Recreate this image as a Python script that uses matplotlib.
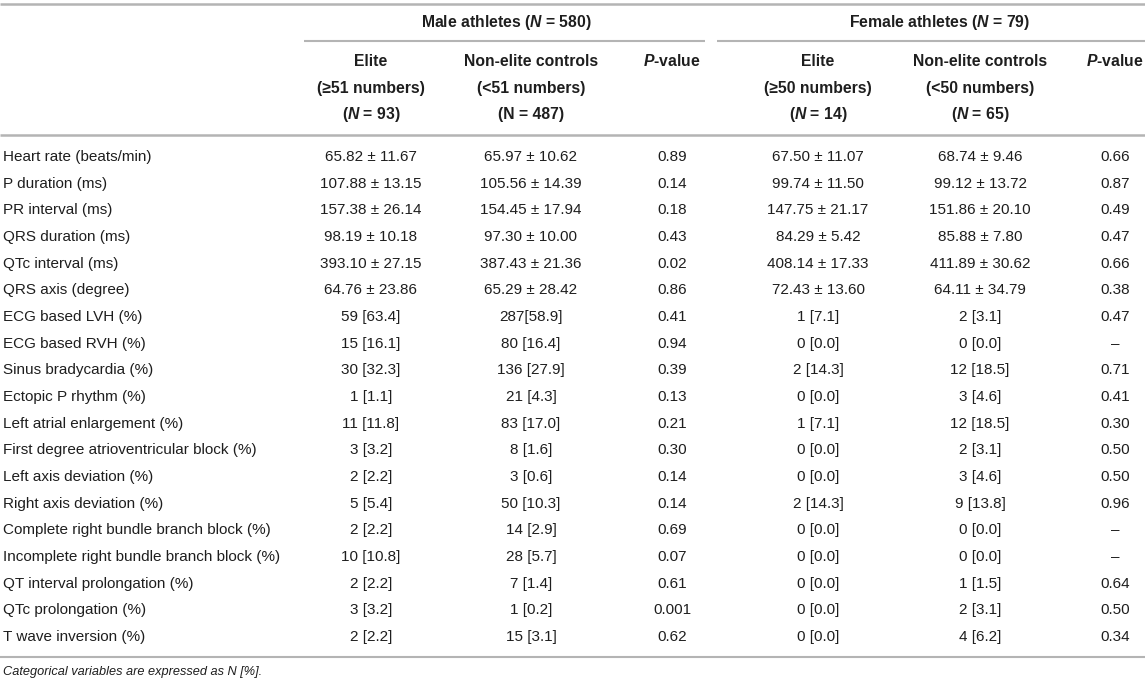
import matplotlib
matplotlib.use("Agg")
import matplotlib.pyplot as plt

FONT = "Liberation Sans"
plt.rcParams['font.family'] = [FONT, 'DejaVu Sans']
plt.rcParams['mathtext.fontset'] = 'custom'
plt.rcParams['mathtext.rm'] = FONT
plt.rcParams['mathtext.it'] = FONT + ':italic'
plt.rcParams['mathtext.bf'] = FONT + ':bold'
plt.rcParams['mathtext.bfit'] = FONT + ':italic:bold'

group_titles = [r"Male athletes ($\mathbfit{N}$ = 580)", r"Female athletes ($\mathbfit{N}$ = 79)"]
col_headers = [
    ["Elite", "(≥51 numbers)", r"($\mathbfit{N}$ = 93)"],
    ["Non-elite controls", "(<51 numbers)", "(N = 487)"],
    [r"$\mathbfit{P}$-value", "", ""],
    ["Elite", "(≥50 numbers)", r"($\mathbfit{N}$ = 14)"],
    ["Non-elite controls", "(<50 numbers)", r"($\mathbfit{N}$ = 65)"],
    [r"$\mathbfit{P}$-value", "", ""],
]

row_labels = [
    "Heart rate (beats/min)", "P duration (ms)", "PR interval (ms)", "QRS duration (ms)",
    "QTc interval (ms)", "QRS axis (degree)", "ECG based LVH (%)", "ECG based RVH (%)",
    "Sinus bradycardia (%)", "Ectopic P rhythm (%)", "Left atrial enlargement (%)",
    "First degree atrioventricular block (%)", "Left axis deviation (%)",
    "Right axis deviation (%)", "Complete right bundle branch block (%)",
    "Incomplete right bundle branch block (%)", "QT interval prolongation (%)",
    "QTc prolongation (%)", "T wave inversion (%)",
]

male_elite = ["65.82 ± 11.67", "107.88 ± 13.15", "157.38 ± 26.14", "98.19 ± 10.18",
              "393.10 ± 27.15", "64.76 ± 23.86", "59 [63.4]", "15 [16.1]", "30 [32.3]",
              "1 [1.1]", "11 [11.8]", "3 [3.2]", "2 [2.2]", "5 [5.4]", "2 [2.2]",
              "10 [10.8]", "2 [2.2]", "3 [3.2]", "2 [2.2]"]
male_ctrl = ["65.97 ± 10.62", "105.56 ± 14.39", "154.45 ± 17.94", "97.30 ± 10.00",
             "387.43 ± 21.36", "65.29 ± 28.42", "287[58.9]", "80 [16.4]", "136 [27.9]",
             "21 [4.3]", "83 [17.0]", "8 [1.6]", "3 [0.6]", "50 [10.3]", "14 [2.9]",
             "28 [5.7]", "7 [1.4]", "1 [0.2]", "15 [3.1]"]
male_p = ["0.89", "0.14", "0.18", "0.43", "0.02", "0.86", "0.41", "0.94", "0.39", "0.13",
          "0.21", "0.30", "0.14", "0.14", "0.69", "0.07", "0.61", "0.001", "0.62"]
female_elite = ["67.50 ± 11.07", "99.74 ± 11.50", "147.75 ± 21.17", "84.29 ± 5.42",
                "408.14 ± 17.33", "72.43 ± 13.60", "1 [7.1]", "0 [0.0]", "2 [14.3]",
                "0 [0.0]", "1 [7.1]", "0 [0.0]", "0 [0.0]", "2 [14.3]", "0 [0.0]",
                "0 [0.0]", "0 [0.0]", "0 [0.0]", "0 [0.0]"]
female_ctrl = ["68.74 ± 9.46", "99.12 ± 13.72", "151.86 ± 20.10", "85.88 ± 7.80",
               "411.89 ± 30.62", "64.11 ± 34.79", "2 [3.1]", "0 [0.0]", "12 [18.5]",
               "3 [4.6]", "12 [18.5]", "2 [3.1]", "3 [4.6]", "9 [13.8]", "0 [0.0]",
               "0 [0.0]", "1 [1.5]", "2 [3.1]", "4 [6.2]"]
female_p = ["0.66", "0.87", "0.49", "0.47", "0.66", "0.38", "0.47", "–", "0.71", "0.41",
            "0.30", "0.50", "0.50", "0.96", "–", "–", "0.64", "0.50", "0.34"]

footnote = "Categorical variables are expressed as N [%]."

W, H = 1145, 683
fig = plt.figure(figsize=(W / 100, H / 100), dpi=100)
ax = fig.add_axes([0, 0, 1, 1])
ax.set_xlim(0, W)
ax.set_ylim(H, 0)
ax.axis("off")

line_col = "#b4b4b4"
txt_col = "#1e1e1e"
fs_body = 11
fs_head = 11.3

col_x = [371, 531, 672, 818, 980, 1115]
columns = [male_elite, male_ctrl, male_p, female_elite, female_ctrl, female_p]

# rules
ax.plot([0, W], [4, 4], color=line_col, lw=1.8, solid_capstyle="butt")
ax.plot([304, 705], [40.5, 40.5], color=line_col, lw=1.5, solid_capstyle="butt")
ax.plot([717, W], [40.5, 40.5], color=line_col, lw=1.5, solid_capstyle="butt")
ax.plot([0, W], [134.5, 134.5], color=line_col, lw=1.8, solid_capstyle="butt")
ax.plot([0, W], [657, 657], color=line_col, lw=1.5, solid_capstyle="butt")

# group titles
ax.text(506, 22, group_titles[0], ha="center", va="center", fontsize=fs_head,
        fontweight="bold", color=txt_col)
ax.text(940, 22, group_titles[1], ha="center", va="center", fontsize=fs_head,
        fontweight="bold", color=txt_col)

# column headers
hdr_y = [61, 88, 115]
for cx, lines in zip(col_x, col_headers):
    for yy, s in zip(hdr_y, lines):
        if s:
            ax.text(cx, yy, s, ha="center", va="center", fontsize=fs_head,
                    fontweight="bold", color=txt_col)

# body
y0, dy = 157, 26.67
for i, lab in enumerate(row_labels):
    y = y0 + i * dy
    ax.text(3, y, lab, ha="left", va="center", fontsize=fs_body, color=txt_col)
    for cx, col in zip(col_x, columns):
        ax.text(cx, y, col[i], ha="center", va="center", fontsize=fs_body, color=txt_col)

ax.text(3, 672, footnote, ha="left", va="center", fontsize=9.2, style="italic",
        color=txt_col)

fig.savefig("out.png", dpi=100)
